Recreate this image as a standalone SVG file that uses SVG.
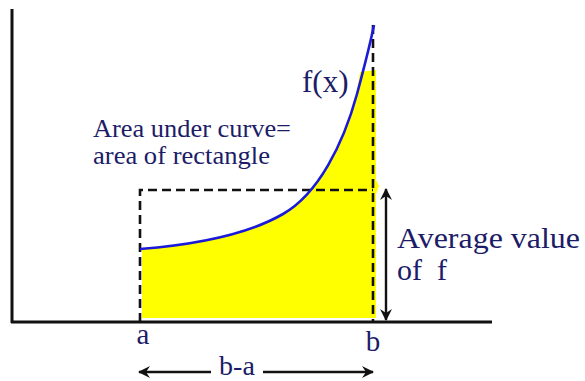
<svg xmlns="http://www.w3.org/2000/svg" width="585" height="381" viewBox="0 0 585 381">
<style>
.lbl{fill:#1c1c68}
.axis{stroke:#111;stroke-width:3;fill:none}
.dash{stroke:#111;stroke-width:2.6;fill:none;stroke-dasharray:9 5}
.arr{stroke:#111;stroke-width:2.4;fill:none}
</style>
<defs>
<marker id="ah" viewBox="0 0 12 12" refX="11" refY="6" markerWidth="12" markerHeight="12" markerUnits="userSpaceOnUse" orient="auto-start-reverse">
<path d="M0,0 L12,6 L0,12 L4,6 Z" fill="#111"/>
</marker>
</defs>
<rect width="585" height="381" fill="#fff"/>
<g id="fill">
<path d="M142,249 C190,245 245,236 283,214 C318,194 343,145 356,98 L360,72 L376,70 L376,180 L379,186 L376,194 L376,318 L142,318 Z" fill="#ffff00"/>
</g>
<g id="axes">
<line class="axis" x1="12" y1="9" x2="12" y2="323"/>
<line class="axis" x1="11" y1="322" x2="492" y2="322"/>
</g>
<g id="rectangle">
<path class="dash" d="M140,322 V190 H373"/>
<line class="dash" x1="373" y1="25" x2="373" y2="322"/>
</g>
<g id="curve">
<path d="M140,249 C190,245 245,236 283,214 C318,194 343,145 357,94 C364,68 370,45 374,25" fill="none" stroke="#1a1ad8" stroke-width="2.6"/>
</g>
<g id="connectors">
<line class="arr" x1="386" y1="320" x2="386" y2="189" marker-start="url(#ah)" marker-end="url(#ah)"/>
<line class="arr" x1="139" y1="372" x2="211" y2="372" marker-start="url(#ah)"/>
<line class="arr" x1="263" y1="372" x2="373" y2="372" marker-end="url(#ah)"/>
</g>
<g id="labels" font-family="Liberation Serif, DejaVu Serif, serif">
<text class="lbl" x="93" y="137" font-size="26" textLength="198" lengthAdjust="spacingAndGlyphs">Area under curve=</text>
<text class="lbl" x="93" y="164" font-size="26" textLength="177" lengthAdjust="spacingAndGlyphs">area of rectangle</text>
<text class="lbl" x="302" y="92" font-size="31">f(x)</text>
<text class="lbl" x="397" y="248" font-size="30" textLength="183" lengthAdjust="spacingAndGlyphs">Average value</text>
<text class="lbl" x="397" y="280" font-size="30" xml:space="preserve">of  f</text>
<text class="lbl" x="143" y="344" font-size="29" text-anchor="middle">a</text>
<text class="lbl" x="373" y="351" font-size="29" text-anchor="middle">b</text>
<text class="lbl" x="237" y="375" font-size="28" text-anchor="middle">b-a</text>
</g>
</svg>
